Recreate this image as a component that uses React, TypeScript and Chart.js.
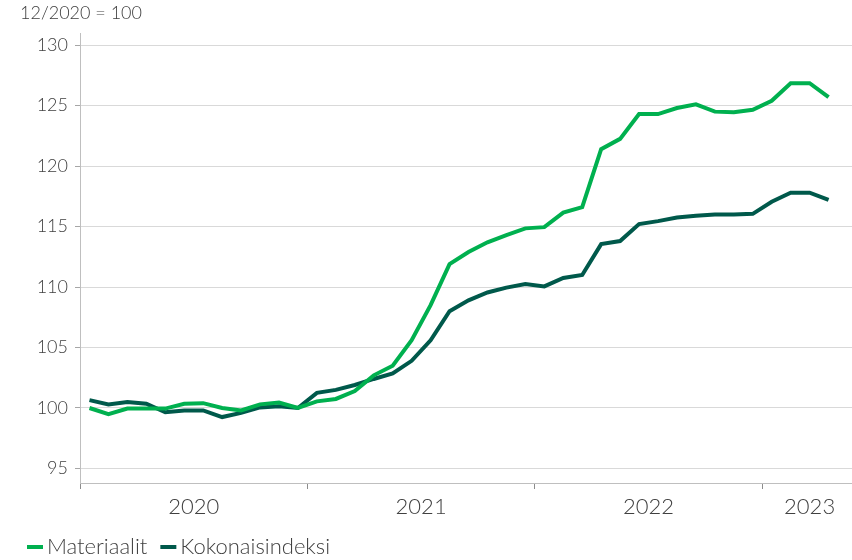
import React, { useEffect, useRef } from 'react';
import { Chart, registerables } from 'chart.js';

Chart.register(...registerables);

// Monthly categories on the x axis (Jan 2020 – May 2023)
const months: string[] = [
  '2020-01','2020-02','2020-03','2020-04','2020-05','2020-06','2020-07','2020-08','2020-09','2020-10','2020-11','2020-12',
  '2021-01','2021-02','2021-03','2021-04','2021-05','2021-06','2021-07','2021-08','2021-09','2021-10','2021-11','2021-12',
  '2022-01','2022-02','2022-03','2022-04','2022-05','2022-06','2022-07','2022-08','2022-09','2022-10','2022-11','2022-12',
  '2023-01','2023-02','2023-03','2023-04','2023-05',
];
const years: string[] = ['2020', '2021', '2022', '2023'];

const materiaalit: number[] = [
  100.0, 99.5, 99.95, 99.95, 99.95, 100.35, 100.4, 100.0, 99.8, 100.3, 100.45, 100.0,
  100.55, 100.75, 101.4, 102.7, 103.5, 105.6, 108.5, 111.9, 112.9, 113.7, 114.3, 114.85,
  114.95, 116.15, 116.6, 121.4, 122.25, 124.3, 124.3, 124.8, 125.1, 124.5, 124.45, 124.65,
  125.4, 126.85, 126.85, 125.7,
];
const kokonaisindeksi: number[] = [
  100.65, 100.3, 100.5, 100.35, 99.65, 99.8, 99.8, 99.25, 99.6, 100.05, 100.15, 100.0,
  101.25, 101.5, 101.9, 102.4, 102.85, 103.9, 105.6, 108.0, 108.9, 109.55, 109.95, 110.25,
  110.05, 110.75, 111.0, 113.55, 113.8, 115.2, 115.45, 115.75, 115.9, 116.0, 116.0, 116.05,
  117.05, 117.8, 117.8, 117.2,
];
const seriesNames: string[] = ['Materiaalit', 'Kokonaisindeksi'];
const yTicks: number[] = [95, 100, 105, 110, 115, 120, 125, 130];
const yMin = 93.8;
const yMax = 131;
const unitLabel = '12/2020 = 100';

const FONT = 'Lato, "Open Sans", sans-serif';
const TEXT = '#404040';
const COLORS = ['#00b04f', '#00594b'];

const yearBounds = years.map((y) => {
  const first = months.findIndex((m) => m.startsWith(y));
  let last = first;
  months.forEach((m, i) => { if (m.startsWith(y)) last = i; });
  return { year: y, start: first, center: (first + last + 1) / 2 };
});
const boundaryValues = yearBounds.map((b) => b.start);

const overlayPlugin = {
  id: 'overlay',
  afterDraw(chart: any) {
    const ctx = chart.ctx;
    ctx.save();
    // unit label
    ctx.fillStyle = TEXT;
    ctx.font = `300 18px ${FONT}`;
    ctx.textBaseline = 'middle';
    ctx.textAlign = 'left';
    ctx.fillText(unitLabel, 20, 13);
    // legend
    let x = 27;
    const y = 547;
    ctx.font = `300 22px ${FONT}`;
    chart.data.datasets.forEach((ds: any) => {
      ctx.strokeStyle = ds.borderColor;
      ctx.lineWidth = 4;
      ctx.beginPath();
      ctx.moveTo(x, y);
      ctx.lineTo(x + 16, y);
      ctx.stroke();
      ctx.fillStyle = TEXT;
      ctx.fillText(ds.label, x + 20, y);
      x += 20 + ctx.measureText(ds.label).width + 13;
    });
    ctx.restore();
  },
};

export default function App() {
  const ref = useRef<HTMLCanvasElement>(null);
  useEffect(() => {
    if (!ref.current) return;
    const chart = new Chart(ref.current, {
      type: 'line',
      data: {
        datasets: [
          {
            label: seriesNames[0],
            data: materiaalit.map((v, i) => ({ x: i + 0.5, y: v })),
            borderColor: COLORS[0],
            backgroundColor: COLORS[0],
            borderWidth: 4,
            pointRadius: 0,
            tension: 0,
          },
          {
            label: seriesNames[1],
            data: kokonaisindeksi.map((v, i) => ({ x: i + 0.5, y: v })),
            borderColor: COLORS[1],
            backgroundColor: COLORS[1],
            borderWidth: 4,
            pointRadius: 0,
            tension: 0,
          },
        ],
      },
      options: {
        animation: false,
        responsive: false,
        devicePixelRatio: 1,
        layout: { padding: { top: 33, left: 0, right: 0, bottom: 0 } },
        plugins: {
          legend: { display: false },
          tooltip: { enabled: false },
          title: { display: false },
        },
        scales: {
          x: {
            type: 'linear',
            min: 0,
            max: months.length,
            afterBuildTicks: (scale: any) => {
              const vals = [...boundaryValues, ...yearBounds.map((b) => b.center)].sort((a, b) => a - b);
              scale.ticks = vals.map((v) => ({ value: v }));
            },
            afterFit: (scale: any) => { scale.height = 77; },
            ticks: {
              autoSkip: false,
              maxRotation: 0,
              minRotation: 0,
              padding: 5,
              color: TEXT,
              font: { family: FONT, size: 22, weight: '300' },
              callback: (value: any) => {
                const b = yearBounds.find((yb) => Math.abs(yb.center - Number(value)) < 1e-6);
                return b ? b.year : '';
              },
            },
            grid: {
              drawOnChartArea: false,
              drawTicks: true,
              tickLength: 6,
              tickColor: (ctx: any) =>
                ctx.tick && boundaryValues.includes(ctx.tick.value) ? '#8c8c8c' : 'rgba(0,0,0,0)',
            },
            border: { display: true, color: '#bfbfbf', width: 1 },
          },
          y: {
            type: 'linear',
            min: yMin,
            max: yMax,
            afterBuildTicks: (scale: any) => {
              scale.ticks = yTicks.map((v) => ({ value: v }));
            },
            afterFit: (scale: any) => { scale.width = 80; },
            ticks: {
              padding: 7,
              color: TEXT,
              font: { family: FONT, size: 18, weight: '300' },
              callback: (value: any) => String(value),
            },
            grid: {
              color: '#d9d9d9',
              tickColor: '#a6a6a6',
              tickLength: 5,
              lineWidth: 1,
            },
            border: { display: true, color: '#bfbfbf', width: 1 },
          },
        },
      },
      plugins: [overlayPlugin],
    } as any);
    return () => chart.destroy();
  }, []);

  return (
    <div style={{ position: 'absolute', left: 0, top: 0, width: 852, height: 560, overflow: 'hidden', background: '#fff' }}>
      <canvas ref={ref} width={857} height={560} style={{ display: 'block', width: 857, height: 560 }} />
    </div>
  );
}
